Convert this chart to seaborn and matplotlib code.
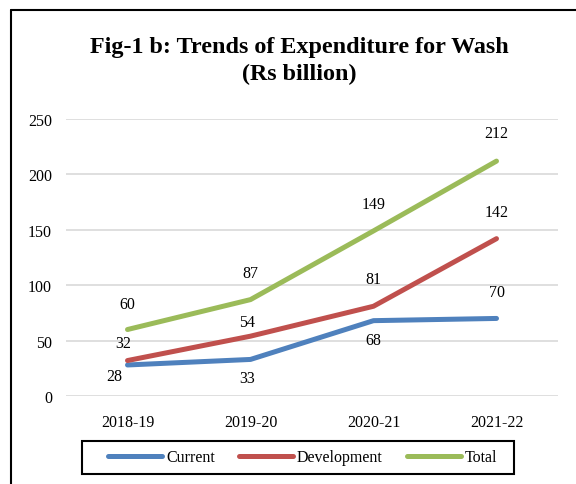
import matplotlib
matplotlib.use("Agg")
import matplotlib.pyplot as plt
import seaborn as sns
import pandas as pd
from matplotlib.lines import Line2D
from matplotlib.patches import Rectangle

years = ["2018-19", "2019-20", "2020-21", "2021-22"]
current = [28, 33, 68, 70]
development = [32, 54, 81, 142]
total = [60, 87, 149, 212]
series_names = ["Current", "Development", "Total"]
yticks = [0, 50, 100, 150, 200, 250]

sns.set_style("white")
plt.rcParams["font.family"] = ["Liberation Serif", "DejaVu Serif"]
plt.rcParams["text.color"] = "black"
plt.rcParams["xtick.color"] = "black"
plt.rcParams["ytick.color"] = "black"
plt.rcParams["axes.labelcolor"] = "black"

df = pd.DataFrame({
    "Year": years * 3,
    "Value": current + development + total,
    "Series": [series_names[0]] * 4 + [series_names[1]] * 4 + [series_names[2]] * 4,
})
palette = {"Current": "#4F81BD", "Development": "#C0504D", "Total": "#9BBB59"}

W, H = 576, 485
fig = plt.figure(figsize=(W / 100, H / 100), dpi=100)
ax = fig.add_axes([66 / W, 1 - 397 / H, (558 - 66) / W, (397 - 120) / H])

sns.lineplot(data=df, x="Year", y="Value", hue="Series", palette=palette,
             linewidth=3.6, ax=ax, legend=False, sort=False)
for ln in ax.lines:
    ln.set_solid_capstyle("round")
    ln.set_solid_joinstyle("round")

ax.set_xlim(-0.5, 3.5)
ax.set_ylim(0, 250)
ax.set_yticks(yticks)
ax.set_yticklabels([str(v) for v in yticks])
ax.yaxis.grid(True, color="#D9D9D9", linewidth=1.2)
ax.set_axisbelow(True)
for s in ax.spines.values():
    s.set_visible(False)
ax.tick_params(axis="y", length=0, pad=10, labelsize=11.5, labelcolor="black")
ax.tick_params(axis="x", length=0, pad=13, labelsize=11.5, labelcolor="black")
ax.set_xlabel("")
ax.set_ylabel("")

# label offsets in pixels (dx, dy), dy positive = up
offsets = {
    "Current": [(-13, -11), (-3, -19), (0, -19), (0, 26)],
    "Development": [(-4, 18), (-3, 14), (0, 27), (0, 27)],
    "Total": [(0, 26), (0, 27), (0, 27), (0, 28)],
}
data = {"Current": current, "Development": development, "Total": total}
for name in series_names:
    for i, v in enumerate(data[name]):
        dx, dy = offsets[name][i]
        ax.annotate(str(v), (i, v), xytext=(dx * 0.72, dy * 0.72),
                    textcoords="offset points", ha="center", va="center",
                    fontsize=11.5, color="black")

fig.text(299 / W, 1 - 61 / H, "Fig-1 b: Trends of Expenditure for Wash\n(Rs billion)",
         ha="center", va="center", fontsize=17.4, fontweight="bold",
         linespacing=1.35, color="black")

handles = [Line2D([0], [0], color=palette[n], linewidth=3.6, solid_capstyle="round")
           for n in series_names]
leg = fig.legend(handles, series_names, loc="center", ncol=3,
                 bbox_to_anchor=(302.5 / W, 1 - 458.5 / H),
                 frameon=False, fontsize=11.5,
                 handlelength=3.4, handletextpad=0.25, columnspacing=1.5)
for t in leg.get_texts():
    t.set_color("black")

fig.add_artist(Rectangle((82 / W, 1 - 475 / H), (514 - 82) / W, (475 - 442) / H,
                         transform=fig.transFigure, fill=False,
                         edgecolor="black", linewidth=1.5))

# outer border (left and top)
fig.add_artist(Line2D([11 / W, 11 / W], [0, 1 - 11 / H], color="black", linewidth=1.5,
                      transform=fig.transFigure))
fig.add_artist(Line2D([11 / W, 1], [1 - 11 / H, 1 - 11 / H], color="black", linewidth=1.5,
                      transform=fig.transFigure))

fig.savefig("out.png", dpi=100, facecolor="white")
